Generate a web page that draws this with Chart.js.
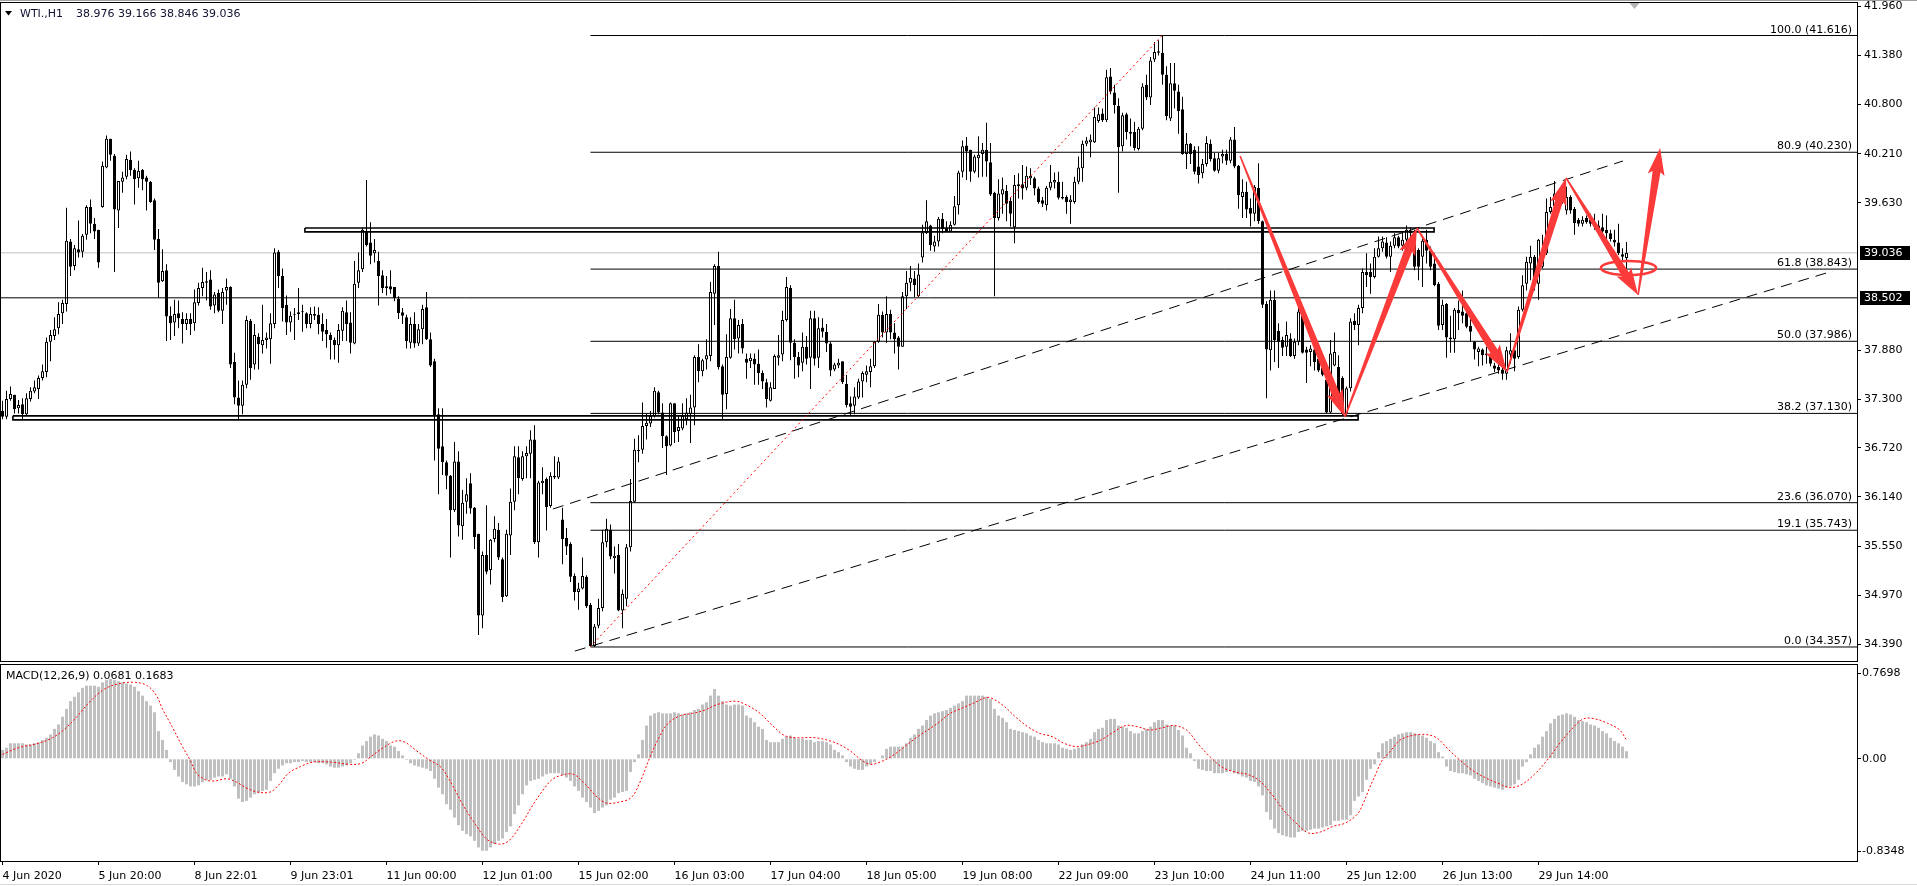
<!DOCTYPE html>
<html>
<head>
<meta charset="utf-8">
<title>WTI.,H1</title>
<script src="https://cdn.jsdelivr.net/npm/chart.js@4.4.1/dist/chart.umd.min.js"></script>
<style>
  html, body { margin: 0; padding: 0; background: #fff; overflow: hidden; }
  #wrap { position: relative; width: 1917px; height: 886px; }
  #price { position: absolute; left: 0; top: 0; }
  #macd { position: absolute; left: 0; top: 663px; }
</style>
</head>
<body>
<div id="wrap">
  <canvas id="price" width="1917" height="663"></canvas>
  <canvas id="macd" width="1917" height="223"></canvas>
</div>
<script>
// WTI H1 candles (bar 0 = 4 Jun 2020)
const opens = [
  37.16,37.09,37.30,37.35,37.19,37.24,37.12,37.30,37.39,37.42,
  37.55,37.62,37.98,38.05,38.14,38.32,38.43,39.17,38.88,39.08,
  39.05,39.25,39.58,39.38,39.31,39.58,40.05,40.39,40.19,39.54,
  39.88,39.94,40.14,40.02,39.92,40.02,39.93,39.88,39.66,39.20,
  38.70,38.83,38.29,38.21,38.32,38.25,38.19,38.25,38.20,38.44,
  38.62,38.70,38.72,38.41,38.56,38.35,38.59,38.63,37.74,37.32,
  37.22,37.47,38.23,37.71,38.04,37.94,38.00,38.01,38.19,39.05,
  38.76,38.42,38.21,38.30,38.31,38.33,38.32,38.19,38.31,38.30,
  38.19,38.12,38.06,38.00,37.94,38.11,38.33,38.21,37.96,38.68,
  38.84,39.29,39.16,39.03,38.94,38.77,38.64,38.64,38.63,38.49,
  38.33,38.27,37.97,38.19,37.96,38.13,38.39,38.01,37.75,37.12,
  36.74,36.55,36.39,35.98,36.56,35.79,36.08,36.30,36.01,35.70,
  34.73,35.45,35.27,35.64,35.75,35.40,34.96,35.68,36.08,36.61,
  36.35,36.62,36.65,36.82,35.60,36.30,36.35,36.03,36.39,36.37,
  35.87,35.65,35.58,35.20,35.01,35.05,35.19,34.86,34.37,34.61,
  34.82,35.60,35.75,35.41,35.45,34.79,34.93,35.54,36.08,36.68,
  36.70,36.98,37.01,37.10,37.38,37.14,36.86,36.75,37.25,36.92,
  36.95,37.06,37.12,37.20,37.80,37.63,37.77,37.81,38.55,38.88,
  37.69,37.36,37.79,38.26,38.02,38.19,37.78,37.75,37.78,37.72,
  37.61,37.50,37.28,37.42,37.79,37.83,38.24,38.62,37.97,37.80,
  37.73,37.92,37.79,38.26,37.79,38.15,38.10,37.96,37.65,37.70,
  37.75,37.48,37.25,37.22,37.32,37.51,37.59,37.62,37.69,37.98,
  38.30,38.09,38.31,38.09,38.03,37.92,38.52,38.68,38.73,38.52,
  38.98,39.27,39.36,39.11,39.17,39.44,39.33,39.29,39.37,39.60,
  40.00,40.31,40.26,40.00,40.16,40.21,40.26,40.11,39.75,39.45,
  39.73,39.77,39.65,39.34,39.83,39.85,39.81,39.92,39.92,39.80,
  39.66,39.60,39.81,39.87,39.88,39.70,39.70,39.64,39.64,39.88,
  40.04,40.33,40.35,40.35,40.60,40.69,40.61,41.13,40.94,40.78,
  40.30,40.68,40.47,40.47,40.27,40.51,41.03,40.88,41.33,41.41,
  41.41,41.15,40.63,41.05,40.95,40.74,40.21,40.33,40.26,40.06,
  39.98,40.09,40.33,40.16,40.01,40.18,40.21,40.13,40.38,40.07,
  39.70,39.76,39.57,39.50,39.81,39.41,38.43,37.88,38.48,38.11,
  38.00,37.92,38.02,37.81,37.98,38.32,37.89,37.86,37.89,37.78,
  37.67,37.53,37.14,37.70,37.68,37.55,37.13,37.43,38.23,38.18,
  38.38,38.81,38.81,38.75,38.99,39.09,39.16,38.99,39.12,39.22,
  39.12,39.19,39.30,39.13,39.07,38.99,39.19,39.06,38.91,38.67,
  38.18,38.43,38.03,38.01,38.36,38.34,38.32,38.17,37.98,37.86,
  37.89,37.82,37.82,37.70,37.68,37.65,37.60,37.83,37.88,37.80,
  38.36,38.67,38.91,38.99,38.67,38.87,39.03,39.52,39.59,39.69,
  39.68,39.54,39.70,39.56,39.43,39.38,39.45,39.43,39.40,39.36,
  39.34,39.31,39.27,39.19,39.16,39.02,38.976
];
const highs = [
  37.28,37.40,37.45,37.35,37.29,37.31,37.37,37.44,37.52,37.58,
  37.71,38.03,38.12,38.27,38.45,38.48,39.57,39.20,39.13,39.42,
  39.26,39.60,39.67,39.45,39.31,40.12,40.43,40.39,40.21,39.89,
  40.00,40.20,40.24,40.04,40.13,40.03,39.95,39.89,39.68,39.32,
  39.08,38.90,38.40,38.48,38.47,38.33,38.32,38.32,38.60,38.68,
  38.86,38.81,38.83,38.57,38.60,38.62,38.73,38.64,37.85,37.52,
  37.52,38.29,38.25,38.19,38.08,38.42,38.09,38.32,39.09,39.07,
  38.85,38.53,38.34,38.38,38.62,38.42,38.33,38.39,38.40,38.39,
  38.32,38.25,38.09,38.03,38.19,38.39,38.47,38.33,38.94,39.04,
  39.33,39.90,39.40,39.20,39.05,38.83,38.76,38.83,38.63,38.52,
  38.38,38.30,38.27,38.33,38.19,38.42,38.57,38.09,37.78,37.19,
  37.19,36.57,36.40,36.79,36.68,36.22,36.36,36.42,36.02,35.70,
  35.49,36.04,35.64,35.91,35.83,35.42,35.75,36.24,36.74,36.74,
  36.68,36.74,36.93,36.99,36.33,36.49,36.37,36.43,36.62,36.61,
  36.01,35.77,35.60,35.23,35.12,35.42,35.21,34.88,34.63,34.93,
  35.75,35.88,35.81,35.55,35.58,35.04,35.58,36.35,36.83,36.87,
  37.26,37.13,37.16,37.44,37.40,37.25,36.87,37.26,37.25,37.10,
  37.25,37.31,37.35,37.82,37.95,37.78,38.01,38.69,38.90,39.05,
  37.71,38.07,38.37,38.48,38.24,38.25,37.84,37.84,37.84,37.89,
  37.64,37.54,37.50,37.83,38.06,38.35,38.75,38.65,38.01,37.86,
  38.09,38.05,38.35,38.35,38.27,38.26,38.19,37.98,37.73,37.78,
  37.75,37.59,37.33,37.44,37.54,37.63,37.70,37.78,37.99,38.43,
  38.34,38.52,38.36,38.20,38.05,38.57,38.82,38.88,38.82,38.91,
  39.37,39.66,39.37,39.24,39.46,39.51,39.41,39.41,39.71,40.01,
  40.37,40.41,40.26,40.20,40.42,40.34,40.58,40.34,39.76,39.91,
  39.93,39.84,39.70,39.96,39.98,40.08,40.06,40.04,39.94,39.82,
  39.70,39.83,40.08,39.99,40.00,39.88,39.72,39.72,39.94,40.18,
  40.37,40.41,40.44,40.76,40.76,40.75,41.21,41.23,41.03,40.87,
  40.70,40.70,40.63,40.59,40.53,41.05,41.15,41.36,41.54,41.56,
  41.616,41.25,41.29,41.29,41.03,40.89,40.46,40.34,40.30,40.30,
  40.15,40.42,40.38,40.22,40.22,40.26,40.26,40.41,40.53,40.08,
  39.91,39.88,39.68,39.84,40.10,39.42,38.46,38.59,38.59,38.20,
  38.04,38.22,38.08,38.02,38.40,38.36,37.92,37.94,37.94,37.84,
  37.70,37.57,38.00,38.09,37.82,37.57,37.45,38.26,38.32,38.42,
  38.85,39.03,38.91,39.09,39.23,39.23,39.22,39.17,39.27,39.24,
  39.29,39.36,39.34,39.31,39.09,39.21,39.31,39.11,39.03,38.69,
  38.48,38.44,38.29,38.38,38.47,38.59,38.38,38.28,37.99,37.92,
  37.90,37.92,37.84,37.73,37.72,37.70,37.92,38.08,37.92,38.40,
  38.77,38.99,39.12,39.01,39.20,39.25,39.68,39.70,39.89,39.78,
  39.80,39.82,39.72,39.58,39.45,39.47,39.48,39.50,39.50,39.42,
  39.50,39.48,39.31,39.31,39.38,39.09,39.166
];
const lows = [
  37.06,37.06,37.28,37.13,37.13,37.06,37.11,37.27,37.37,37.30,
  37.52,37.56,37.75,38.00,38.07,38.19,38.34,38.76,38.83,38.98,
  38.98,39.19,39.27,39.20,38.86,39.57,40.04,40.13,38.81,39.33,
  39.75,39.91,39.95,39.61,39.81,39.78,39.54,39.63,39.07,38.50,
  38.69,37.99,38.00,38.05,38.14,37.96,38.12,38.06,38.11,38.41,
  38.52,38.47,38.36,38.32,38.33,38.19,38.42,37.67,37.24,37.06,
  37.12,37.43,37.53,37.65,37.65,37.84,37.90,37.72,38.14,38.62,
  38.22,38.06,38.10,38.00,38.24,38.10,38.14,38.14,38.24,38.07,
  37.99,37.91,37.77,37.77,37.73,37.99,37.99,37.84,37.95,38.62,
  38.81,39.11,38.90,38.92,38.41,38.56,38.53,38.55,38.46,38.25,
  38.19,37.90,37.90,37.91,37.93,37.95,38.00,37.68,36.57,36.17,
  36.40,36.23,35.42,35.96,35.67,35.63,35.94,35.94,35.52,34.50,
  34.58,35.22,35.10,35.60,35.39,34.89,34.95,35.45,35.98,36.17,
  36.33,36.36,36.36,35.58,35.42,36.17,35.74,36.01,36.35,36.35,
  35.34,35.45,35.13,34.91,34.80,35.04,34.82,34.357,34.36,34.58,
  34.78,35.54,35.40,35.23,34.78,34.58,34.84,35.49,36.07,36.55,
  36.65,36.82,36.97,37.08,37.12,36.72,36.40,36.74,36.78,36.79,
  36.93,36.99,36.78,36.99,37.50,37.57,37.65,37.75,38.18,37.65,
  37.06,37.18,37.78,37.89,37.84,37.84,37.54,37.67,37.47,37.47,
  37.42,37.20,37.27,37.42,37.70,37.75,38.22,37.76,37.54,37.56,
  37.63,37.71,37.42,37.70,37.67,38.03,37.86,37.57,37.63,37.67,
  37.48,37.20,37.10,37.12,37.30,37.32,37.50,37.44,37.67,37.97,
  38.03,37.97,38.01,37.84,37.65,37.92,38.37,38.58,38.51,38.51,
  38.92,39.26,39.06,39.05,39.11,39.27,39.28,39.28,39.36,39.49,
  39.93,39.90,39.88,39.98,39.93,39.94,39.94,39.71,38.52,39.42,
  39.50,39.41,39.35,39.15,39.68,39.67,39.78,39.84,39.72,39.62,
  39.58,39.54,39.78,39.80,39.67,39.67,39.50,39.38,39.62,39.85,
  39.88,40.30,40.17,40.34,40.58,40.59,40.59,40.92,40.69,39.75,
  40.24,40.38,40.30,40.25,40.25,40.49,40.85,40.79,41.30,41.38,
  41.03,40.61,40.60,40.75,40.45,40.20,40.03,40.09,39.97,39.86,
  39.92,40.06,40.12,40.00,39.98,40.10,40.08,40.10,40.04,39.56,
  39.45,39.45,39.35,39.41,39.38,38.38,37.31,37.64,37.74,37.67,
  37.81,37.81,37.80,37.78,37.94,37.84,37.49,37.69,37.64,37.62,
  37.57,37.13,37.13,37.69,37.29,37.11,37.10,37.39,38.12,37.94,
  38.32,38.63,38.55,38.73,38.98,39.05,38.97,38.81,39.09,39.09,
  39.06,39.12,39.20,38.83,38.71,38.63,38.91,38.83,38.64,38.12,
  38.12,37.79,37.85,37.85,38.12,38.20,38.14,37.98,37.77,37.69,
  37.70,37.72,37.69,37.62,37.60,37.53,37.53,37.72,37.63,37.78,
  38.34,38.59,38.71,38.59,38.48,38.85,39.01,39.50,39.56,39.52,
  39.62,39.49,39.50,39.25,39.35,39.35,39.38,39.35,39.31,39.27,
  39.27,39.19,39.17,39.11,39.01,38.93,38.846
];
const closes = [
  37.09,37.30,37.36,37.18,37.23,37.12,37.31,37.40,37.44,37.55,
  37.63,37.98,38.06,38.13,38.31,38.44,39.18,38.87,39.09,39.04,
  39.24,39.58,39.38,39.29,38.92,40.07,40.39,40.20,39.55,39.89,
  39.93,40.15,40.02,39.91,40.01,39.91,39.88,39.64,39.19,38.68,
  38.82,38.28,38.20,38.31,38.26,38.19,38.25,38.19,38.45,38.62,
  38.69,38.68,38.40,38.54,38.35,38.57,38.63,37.71,37.32,37.22,
  37.47,38.24,37.67,38.06,37.95,38.00,38.03,38.20,39.04,38.76,
  38.38,38.21,38.29,38.31,38.33,38.33,38.19,38.31,38.29,38.19,
  38.10,38.07,38.00,37.94,38.12,38.35,38.19,37.97,38.67,38.83,
  39.31,39.13,39.00,39.07,38.76,38.62,38.62,38.60,38.50,38.32,
  38.29,37.99,38.19,37.96,38.13,38.37,38.01,37.70,37.10,36.71,
  36.55,36.39,35.98,36.56,35.80,36.07,36.17,36.00,35.66,34.73,
  35.45,35.25,35.63,35.76,35.42,34.95,35.70,36.08,36.62,36.36,
  36.62,36.66,36.82,35.60,36.31,36.33,36.02,36.39,36.37,36.56,
  35.64,35.55,35.19,35.01,35.05,35.20,34.84,34.37,34.60,34.82,
  35.60,35.76,35.43,35.44,34.79,34.99,35.54,36.09,36.70,36.70,
  36.98,37.02,37.10,37.40,37.14,36.86,36.74,37.25,36.91,36.97,
  37.10,37.14,37.20,37.80,37.63,37.76,37.82,38.57,38.88,37.68,
  37.35,37.80,38.26,38.01,38.18,37.90,37.73,37.79,37.71,37.61,
  37.51,37.30,37.44,37.81,37.82,38.24,38.63,37.97,37.80,37.70,
  37.92,37.78,38.26,37.78,38.14,38.10,37.96,37.64,37.71,37.73,
  37.50,37.23,37.21,37.33,37.51,37.61,37.63,37.69,37.98,38.30,
  38.09,38.31,38.09,38.01,37.92,38.52,38.68,38.74,38.65,38.78,
  39.28,39.41,39.13,39.17,39.44,39.32,39.29,39.37,39.59,39.99,
  40.30,40.24,40.00,40.18,40.20,40.26,40.12,39.73,39.45,39.74,
  39.79,39.62,39.50,39.84,39.85,39.80,39.95,39.95,39.80,39.64,
  39.62,39.81,39.88,39.90,39.69,39.68,39.64,39.67,39.88,40.05,
  40.33,40.37,40.38,40.65,40.68,40.61,41.12,40.95,40.79,40.29,
  40.67,40.47,40.45,40.28,40.51,41.01,40.88,41.32,41.42,41.43,
  41.15,40.66,41.05,40.96,40.72,40.21,40.33,40.21,40.00,39.96,
  40.09,40.34,40.15,40.01,40.16,40.21,40.13,40.38,40.06,39.72,
  39.76,39.55,39.50,39.82,39.41,38.42,37.89,38.48,38.00,37.98,
  37.91,38.06,37.81,37.98,38.34,37.85,37.85,37.90,37.74,37.64,
  37.59,37.14,37.84,37.86,37.37,37.13,37.43,38.22,38.18,38.38,
  38.81,38.77,38.75,38.99,39.09,39.17,38.99,39.12,39.22,39.11,
  39.19,39.31,39.27,38.87,38.87,39.18,39.06,38.87,38.65,38.17,
  38.42,38.03,38.01,38.36,38.32,38.29,38.16,38.10,37.89,37.90,
  37.82,37.84,37.72,37.66,37.64,37.60,37.88,37.88,37.78,38.36,
  38.65,38.93,38.99,38.67,39.19,39.07,39.52,39.58,39.74,39.72,
  39.74,39.70,39.54,39.39,39.38,39.43,39.40,39.38,39.35,39.31,
  39.29,39.27,39.20,39.16,39.03,38.99,39.036
];

// MACD(12,26,9) main values, one per bar
const macdMain = [
  0.08,0.10,0.14,0.14,0.14,0.14,0.13,0.13,0.14,0.15,
  0.17,0.19,0.22,0.27,0.31,0.38,0.45,0.52,0.56,0.60,
  0.64,0.66,0.66,0.66,0.65,0.69,0.71,0.72,0.71,0.70,
  0.69,0.68,0.67,0.65,0.61,0.57,0.52,0.48,0.42,0.25,
  0.17,0.08,-0.03,-0.10,-0.16,-0.21,-0.23,-0.25,-0.25,-0.24,
  -0.21,-0.19,-0.19,-0.17,-0.16,-0.16,-0.14,-0.18,-0.25,-0.36,
  -0.39,-0.38,-0.35,-0.32,-0.31,-0.29,-0.28,-0.20,-0.13,-0.09,
  -0.06,-0.04,-0.04,-0.03,-0.03,-0.02,-0.03,-0.03,-0.03,-0.04,
  -0.04,-0.05,-0.07,-0.08,-0.08,-0.07,-0.06,-0.04,-0.01,0.05,
  0.12,0.16,0.20,0.22,0.21,0.18,0.16,0.12,0.11,0.07,
  0.03,-0.01,-0.04,-0.06,-0.07,-0.08,-0.09,-0.11,-0.18,-0.26,
  -0.32,-0.41,-0.46,-0.53,-0.60,-0.65,-0.68,-0.70,-0.74,-0.80,
  -0.83,-0.83,-0.80,-0.77,-0.74,-0.72,-0.66,-0.61,-0.50,-0.42,
  -0.32,-0.24,-0.20,-0.19,-0.18,-0.16,-0.14,-0.13,-0.13,-0.13,
  -0.15,-0.17,-0.20,-0.25,-0.29,-0.35,-0.39,-0.44,-0.49,-0.47,
  -0.44,-0.42,-0.37,-0.35,-0.31,-0.30,-0.29,-0.12,-0.03,0.04,
  0.17,0.30,0.39,0.41,0.42,0.41,0.41,0.41,0.42,0.41,
  0.40,0.41,0.42,0.44,0.45,0.49,0.51,0.57,0.63,0.57,
  0.52,0.49,0.48,0.49,0.49,0.48,0.39,0.37,0.33,0.29,
  0.27,0.17,0.15,0.15,0.15,0.18,0.20,0.21,0.19,0.18,
  0.18,0.17,0.17,0.15,0.16,0.16,0.15,0.13,0.08,0.06,
  0.03,-0.03,-0.07,-0.09,-0.10,-0.10,-0.07,-0.05,-0.03,0.00,
  0.03,0.09,0.11,0.11,0.11,0.11,0.14,0.19,0.22,0.27,
  0.30,0.35,0.39,0.41,0.42,0.43,0.44,0.46,0.48,0.50,
  0.52,0.57,0.57,0.57,0.57,0.57,0.56,0.54,0.45,0.39,
  0.37,0.33,0.27,0.26,0.25,0.24,0.23,0.21,0.20,0.17,
  0.15,0.14,0.14,0.14,0.13,0.10,0.09,0.08,0.09,0.10,
  0.13,0.15,0.18,0.24,0.27,0.28,0.35,0.36,0.36,0.30,
  0.29,0.28,0.25,0.23,0.23,0.25,0.27,0.29,0.33,0.35,
  0.35,0.31,0.30,0.30,0.26,0.21,0.10,0.05,-0.02,-0.09,
  -0.10,-0.11,-0.11,-0.13,-0.13,-0.13,-0.12,-0.11,-0.13,-0.14,
  -0.16,-0.17,-0.20,-0.21,-0.25,-0.33,-0.48,-0.55,-0.63,-0.67,
  -0.69,-0.70,-0.71,-0.71,-0.66,-0.65,-0.65,-0.64,-0.63,-0.63,
  -0.62,-0.61,-0.60,-0.56,-0.56,-0.55,-0.55,-0.51,-0.38,-0.34,
  -0.30,-0.19,-0.09,-0.05,0.06,0.14,0.16,0.18,0.20,0.22,
  0.23,0.24,0.24,0.23,0.22,0.21,0.19,0.16,0.14,0.06,
  0.02,-0.07,-0.11,-0.12,-0.13,-0.13,-0.14,-0.15,-0.18,-0.20,
  -0.22,-0.24,-0.25,-0.26,-0.27,-0.28,-0.26,-0.25,-0.23,-0.19,
  -0.07,-0.03,0.04,0.10,0.13,0.20,0.25,0.32,0.36,0.39,
  0.40,0.41,0.40,0.38,0.35,0.34,0.33,0.31,0.30,0.28,
  0.25,0.23,0.19,0.16,0.14,0.11,0.0681
];

// signal line, read as [bar, value] points along the red dotted curve
const signalPoints = [
  [0,0.04],[4,0.10],[9,0.14],[12.5,0.19],[15.6,0.27],[18.6,0.38],[21.7,0.51],[25.5,0.63],
  [29.4,0.68],[33.2,0.69],[36.2,0.66],[38.5,0.57],[40,0.45],[42.4,0.29],[44.7,0.13],[47,-0.02],
  [48.5,-0.13],[50.8,-0.19],[53,-0.20],[56,-0.18],[58.5,-0.21],[60.8,-0.26],[63.8,-0.30],[66.9,-0.30],
  [69.2,-0.23],[71.5,-0.13],[74.5,-0.07],[77.6,-0.03],[82.2,-0.03],[86.8,-0.05],[89.8,-0.04],[92.1,0.02],
  [95.2,0.10],[98.3,0.16],[100.6,0.15],[103.6,0.07],[106.7,-0.01],[109.7,-0.08],[112.8,-0.26],[115,-0.41],
  [118.2,-0.59],[121.2,-0.73],[124.3,-0.77],[126.6,-0.74],[129.7,-0.59],[132.7,-0.41],[135,-0.29],[137.3,-0.19],
  [139.6,-0.15],[142.7,-0.14],[145.7,-0.23],[148.8,-0.35],[151.1,-0.40],[154.2,-0.39],[157.2,-0.35],[159.5,-0.20],
  [161.8,0.01],[164.1,0.19],[166.4,0.32],[169.5,0.39],[172.5,0.41],[175.6,0.44],[178.7,0.49],[183.3,0.52],
  [186.3,0.48],[189.4,0.41],[192.5,0.30],[195.5,0.21],[198.6,0.19],[203.2,0.19],[207.8,0.15],[211.6,0.08],
  [214.7,-0.01],[217,-0.05],[220,-0.02],[223,0.04],[226.2,0.13],[229.2,0.21],[233.8,0.32],[236.9,0.41],
  [239.4,0.45],[242.6,0.50],[245.6,0.55],[247.1,0.55],[250.2,0.48],[253.2,0.38],[256.3,0.29],[259.3,0.23],
  [262.4,0.20],[265.4,0.14],[268.5,0.11],[271.5,0.13],[274.6,0.17],[277.7,0.24],[280.7,0.30],[283.7,0.29],
  [286.8,0.26],[289.9,0.28],[292.9,0.30],[296,0.26],[299,0.13],[302.1,0.01],[305.1,-0.08],[308.2,-0.12],
  [311.2,-0.14],[314.3,-0.20],[317.3,-0.32],[320.4,-0.47],[323.4,-0.58],[326.5,-0.67],[329.5,-0.66],[332.6,-0.61],
  [335.7,-0.58],[338.7,-0.50],[340.2,-0.40],[341.8,-0.26],[343.3,-0.14],[344.8,-0.02],[346.3,0.04],[347.9,0.11],
  [349.4,0.17],[352.4,0.21],[355.5,0.22],[358.5,0.19],[361.6,0.08],[364.6,-0.02],[367.7,-0.11],[370.7,-0.17],
  [373.8,-0.22],[376.9,-0.26],[379.9,-0.23],[383,-0.14],[386,-0.02],[389.1,0.13],[392.1,0.26],[395.2,0.36],
  [398.2,0.36],[401.3,0.32],[404.3,0.26],[406,0.1683]
];

// axes
const priceTicks = [41.960, 41.380, 40.800, 40.210, 39.630, 37.880, 37.300, 36.720, 36.140, 35.550, 34.970, 34.390];
const macdTicks = [0.7698, 0, -0.8348];
const macdTickText = ['0.7698', '0.00', '-0.8348'];
const timeLabelBars = [0, 24, 48, 72, 96, 120, 144, 168, 192, 216, 240, 264, 288, 312, 336, 360, 384];
const timeLabels = ['4 Jun 2020', '5 Jun 20:00', '8 Jun 22:01', '9 Jun 23:01', '11 Jun 00:00', '12 Jun 01:00',
  '15 Jun 02:00', '16 Jun 03:00', '17 Jun 04:00', '18 Jun 05:00', '19 Jun 08:00', '22 Jun 09:00',
  '23 Jun 10:00', '24 Jun 11:00', '25 Jun 12:00', '26 Jun 13:00', '29 Jun 14:00'];

// drawn objects (bar index / price)
const fibRatios = ['100.0', '80.9', '61.8', '50.0', '38.2', '23.6', '19.1', '0.0'];
const fibPrices = [41.616, 40.230, 38.843, 37.986, 37.130, 36.070, 35.743, 34.357];
const fibStartBar = 147;
const fibAnchorBars = [146.9, 289.9];
const fibAnchorPrices = [34.357, 41.616];
const bidPrice = 39.036;
const levelPrice = 38.502;
const zoneStartBars = [75.6, 2.6];
const zoneEndBars = [357.9, 338.9];
const zoneTops = [39.331, 37.101];
const zoneBottoms = [39.285, 37.053];
const trendStartBars = [137.6, 143.1];
const trendEndBars = [405.1, 457.6];
const trendStartPrices = [35.995, 34.309];
const trendEndPrices = [40.126, 38.820];
const arrowFromBars = [309.4, 335.6, 353.6, 376.1, 390.9, 408.9];
const arrowFromPrices = [40.186, 37.087, 39.331, 37.622, 39.925, 38.536];
const arrowToBars = [335.6, 353.6, 376.1, 390.9, 408.9, 414.4];
const arrowToPrices = [37.087, 39.331, 37.622, 39.925, 38.536, 40.281];
const ringBar = 406.5, ringPrice = 38.856, ringHalfBars = 6.9, ringHalfPrice = 0.083;

const BAR_MIN = -0.375, BAR_MAX = 463.875;
const PRICE_MIN = 34.1908, PRICE_MAX = 42.0137;
const MACD_MIN = -0.9224, MACD_MAX = 0.8556;

Chart.defaults.font.family = 'DejaVu Sans';
Chart.defaults.font.size = 11;
Chart.defaults.color = '#000';

const RED = '#fb3a3a';
const font11 = '11px "DejaVu Sans"';

function drawArrow(ctx, x0, y0, x1, y1) {
  const dx = x1 - x0, dy = y1 - y0, len = Math.hypot(dx, dy);
  const ux = dx / len, uy = dy / len, nx = -uy, ny = ux;
  const headLen = 24, headHalf = 8.5, tailHalf = 0.8, neckHalf = 4;
  const bx = x1 - ux * headLen, by = y1 - uy * headLen;
  ctx.beginPath();
  ctx.moveTo(x0 + nx * tailHalf, y0 + ny * tailHalf);
  ctx.lineTo(bx + nx * neckHalf, by + ny * neckHalf);
  ctx.lineTo(bx - ux * 3 + nx * headHalf, by - uy * 3 + ny * headHalf);
  ctx.lineTo(x1, y1);
  ctx.lineTo(bx - ux * 3 - nx * headHalf, by - uy * 3 - ny * headHalf);
  ctx.lineTo(bx - nx * neckHalf, by - ny * neckHalf);
  ctx.lineTo(x0 - nx * tailHalf, y0 - ny * tailHalf);
  ctx.closePath();
  ctx.fill();
}

const priceOverlay = {
  id: 'priceOverlay',
  afterDatasetsDraw(chart) {
    const { ctx, chartArea: a, scales: { x, y } } = chart;
    ctx.save();
    ctx.beginPath();
    ctx.rect(a.left, a.top, a.right - a.left, a.bottom - a.top);
    ctx.clip();
    ctx.fillStyle = RED;
    for (let k = 0; k < arrowFromBars.length; k++) {
      drawArrow(ctx,
        x.getPixelForValue(arrowFromBars[k]), y.getPixelForValue(arrowFromPrices[k]),
        x.getPixelForValue(arrowToBars[k]), y.getPixelForValue(arrowToPrices[k]));
    }
    const cx = x.getPixelForValue(ringBar), cy = y.getPixelForValue(ringPrice);
    const rx = x.getPixelForValue(ringBar + ringHalfBars) - cx;
    const ry = y.getPixelForValue(ringPrice - ringHalfPrice) - cy;
    ctx.strokeStyle = RED;
    ctx.lineWidth = 2.6;
    ctx.beginPath();
    ctx.ellipse(cx, cy, rx, ry, 0, 0, Math.PI * 2);
    ctx.stroke();
    ctx.restore();
  },
  afterDraw(chart) {
    const { ctx, chartArea: a, scales: { x, y } } = chart;
    ctx.save();
    // window edge and chart frame
    ctx.strokeStyle = '#a0a0a0';
    ctx.lineWidth = 1;
    ctx.beginPath(); ctx.moveTo(0, 0.5); ctx.lineTo(1917, 0.5); ctx.stroke();
    ctx.strokeStyle = '#000';
    ctx.strokeRect(0.5, a.top + 0.5, a.right - 1, a.bottom - a.top);
    // fibonacci level captions
    ctx.font = font11;
    ctx.fillStyle = '#000';
    ctx.textAlign = 'right';
    ctx.textBaseline = 'alphabetic';
    fibPrices.forEach((p, k) => {
      ctx.fillText(fibRatios[k] + ' (' + p.toFixed(3) + ')', a.right - 6, y.getPixelForValue(p) - 3);
    });
    // chart shift marker
    const sx = x.getPixelForValue(408);
    ctx.fillStyle = '#b4b4b4';
    ctx.beginPath(); ctx.moveTo(sx - 5, 3); ctx.lineTo(sx + 5, 3); ctx.lineTo(sx, 9); ctx.closePath(); ctx.fill();
    // price boxes on the axis
    [bidPrice, levelPrice].forEach(p => {
      const py = Math.round(y.getPixelForValue(p));
      ctx.fillStyle = '#000';
      ctx.fillRect(a.right + 2, py - 7, 50, 14);
      ctx.fillStyle = '#fff';
      ctx.textAlign = 'left';
      ctx.textBaseline = 'middle';
      ctx.fillText(p.toFixed(3), a.right + 6, py);
    });
    // header
    ctx.fillStyle = '#000';
    ctx.beginPath(); ctx.moveTo(5, 11); ctx.lineTo(12, 11); ctx.lineTo(8.5, 15.5); ctx.closePath(); ctx.fill();
    ctx.fillStyle = '#101030';
    ctx.textAlign = 'left';
    ctx.textBaseline = 'middle';
    ctx.fillText('WTI.,H1', 20, 14);
    ctx.fillText('38.976 39.166 38.846 39.036', 76, 14);
    ctx.restore();
  }
};

const macdOverlay = {
  id: 'macdOverlay',
  afterDraw(chart) {
    const { ctx, chartArea: a } = chart;
    ctx.save();
    ctx.strokeStyle = '#000';
    ctx.lineWidth = 1;
    ctx.strokeRect(0.5, a.top + 0.5, a.right - 1, a.bottom - a.top);
    ctx.strokeStyle = '#d8d8d8';
    ctx.beginPath(); ctx.moveTo(0, 221.5); ctx.lineTo(1917, 221.5); ctx.stroke();
    ctx.font = font11;
    ctx.fillStyle = '#000';
    ctx.textAlign = 'left';
    ctx.textBaseline = 'middle';
    ctx.fillText('MACD(12,26,9) 0.0681 0.1683', 6, 13);
    ctx.restore();
  }
};

// candle pieces
const wickData = opens.map((o, i) => ({ x: i, y: [Math.min(lows[i], o, closes[i]), Math.max(highs[i], o, closes[i])] }));
const bodyData = opens.map((o, i) => ({ x: i, y: [Math.min(o, closes[i]), Math.max(o, closes[i])] }));
const bodyFill = opens.map((o, i) => closes[i] >= o ? '#ffffff' : '#000000');

function segment(x0, y0, x1, y1, color, width, dash, order) {
  return {
    type: 'line', data: [{ x: x0, y: y0 }, { x: x1, y: y1 }],
    borderColor: color, borderWidth: width, borderDash: dash || [],
    pointRadius: 0, tension: 0, fill: false, order: order
  };
}

const overlaySets = [];
overlaySets.push(segment(BAR_MIN, bidPrice, BAR_MAX, bidPrice, '#c0c0c0', 1, null, 6));
overlaySets.push(segment(BAR_MIN, levelPrice, BAR_MAX, levelPrice, '#000', 1, null, 3));
fibPrices.forEach(p => overlaySets.push(segment(fibStartBar, p, BAR_MAX, p, '#000', 1, null, 3)));
zoneTops.forEach((t, k) => {
  overlaySets.push({
    type: 'line',
    data: [
      { x: zoneStartBars[k], y: t }, { x: zoneEndBars[k], y: t },
      { x: zoneEndBars[k], y: zoneBottoms[k] }, { x: zoneStartBars[k], y: zoneBottoms[k] },
      { x: zoneStartBars[k], y: t }
    ],
    borderColor: '#000', borderWidth: 1.6, pointRadius: 0, tension: 0, fill: false, order: 3
  });
});
trendStartBars.forEach((b, k) => overlaySets.push(
  segment(b, trendStartPrices[k], trendEndBars[k], trendEndPrices[k], '#000', 1, [11, 7], 3)));
overlaySets.push(segment(fibAnchorBars[0], fibAnchorPrices[0], fibAnchorBars[1], fibAnchorPrices[1], '#ff0000', 1, [2, 3], 2));

new Chart(document.getElementById('price'), {
  type: 'bar',
  data: {
    datasets: [
      {
        label: 'wick', data: wickData, backgroundColor: '#000', borderWidth: 0,
        barThickness: 1, grouped: false, inflateAmount: 0, order: 5
      },
      {
        label: 'body', data: bodyData, backgroundColor: bodyFill, borderColor: '#000', borderWidth: 1,
        borderSkipped: false, barThickness: 3, minBarLength: 1, grouped: false, inflateAmount: 0, order: 4
      },
      ...overlaySets
    ]
  },
  options: {
    responsive: false,
    animation: false,
    events: [],
    layout: { padding: { left: 1, top: 2, bottom: 2, right: 0 }, autoPadding: false },
    plugins: { legend: { display: false }, tooltip: { enabled: false } },
    scales: {
      x: { type: 'linear', min: BAR_MIN, max: BAR_MAX, offset: false, grid: { offset: false }, display: false },
      y: {
        position: 'right', min: PRICE_MIN, max: PRICE_MAX,
        afterFit(s) { s.width = 59; s.paddingTop = 0; s.paddingBottom = 0; },
        afterBuildTicks(s) { s.ticks = priceTicks.map(v => ({ value: v })); },
        ticks: { padding: 3, color: '#000', callback: v => v.toFixed(3) },
        grid: { display: true, drawOnChartArea: false, drawTicks: true, tickLength: 3, color: '#000' },
        border: { display: false }
      }
    }
  },
  plugins: [priceOverlay]
});

new Chart(document.getElementById('macd'), {
  type: 'bar',
  data: {
    datasets: [
      {
        label: 'MACD', data: macdMain.map((v, i) => ({ x: i, y: v })),
        backgroundColor: '#c0c0c0', borderWidth: 0, barThickness: 3, grouped: false, inflateAmount: 0, order: 2
      },
      {
        type: 'line', label: 'Signal', data: signalPoints.map(p => ({ x: p[0], y: p[1] })),
        borderColor: '#ff0000', borderWidth: 1, borderDash: [2, 2], pointRadius: 0, tension: 0.35, fill: false, order: 1
      }
    ]
  },
  options: {
    responsive: false,
    animation: false,
    events: [],
    layout: { padding: { left: 1, top: 1, bottom: 0, right: 0 }, autoPadding: false },
    plugins: { legend: { display: false }, tooltip: { enabled: false } },
    scales: {
      x: {
        type: 'linear', min: BAR_MIN, max: BAR_MAX, position: 'bottom', offset: false,
        afterFit(s) { s.height = 25; s.paddingLeft = 0; s.paddingRight = 0; },
        afterBuildTicks(s) { s.ticks = timeLabelBars.map(v => ({ value: v })); },
        ticks: { autoSkip: false, maxRotation: 0, align: 'start', padding: 5, color: '#000',
          callback: (v, i) => timeLabels[i] },
        grid: { display: true, offset: false, drawOnChartArea: false, drawTicks: true, tickLength: 4, color: '#000' },
        border: { display: false }
      },
      y: {
        position: 'right', min: MACD_MIN, max: MACD_MAX,
        afterFit(s) { s.width = 59; s.paddingTop = 0; s.paddingBottom = 0; },
        afterBuildTicks(s) { s.ticks = macdTicks.map(v => ({ value: v })); },
        ticks: { padding: 1, color: '#000', callback: (v, i) => macdTickText[i] },
        grid: { display: true, drawOnChartArea: false, drawTicks: true, tickLength: 3, color: '#000' },
        border: { display: false }
      }
    }
  },
  plugins: [macdOverlay]
});
</script>
</body>
</html>
